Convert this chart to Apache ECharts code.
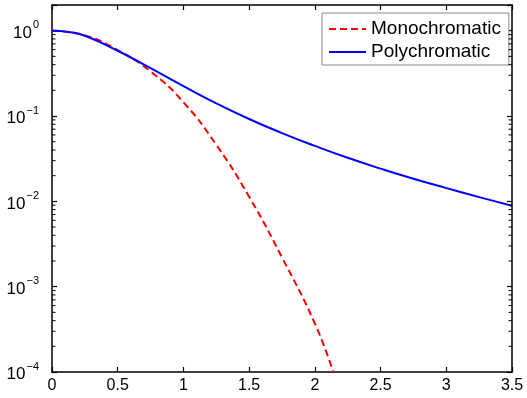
<!DOCTYPE html>
<html>
<head>
<meta charset="utf-8">
<script src="https://cdn.jsdelivr.net/npm/echarts@6/dist/echarts.min.js"></script>
<style>html,body{margin:0;padding:0;background:#fff}#c{width:527px;height:398px}</style>
</head>
<body>
<div id="c"></div>
<script>
const seriesNames = ['Monochromatic', 'Polychromatic'];
const monoX = [0, 0.25, 0.5, 0.75, 1.0, 1.25, 1.5, 1.75, 2.0, 2.14];
const monoY = [1.0, 0.88, 0.59, 0.333, 0.145, 0.046, 0.0113, 0.0022, 0.00037, 0.0001];
const polyX = [0, 0.125, 0.25, 0.5, 0.75, 1.0, 1.25, 1.5, 1.75, 2.0, 2.25, 2.5, 2.75, 3.0, 3.25, 3.5];
const polyY = [1.0, 0.966, 0.871, 0.582, 0.363, 0.224, 0.141, 0.0923, 0.0631, 0.0447, 0.0324, 0.0242, 0.0184, 0.0143, 0.0112, 0.0089];
const xTicks = [0, 0.5, 1, 1.5, 2, 2.5, 3, 3.5];
const yMin = 1e-4, yMax = 2;
const minorTicks = [];
[-4, -3, -2, -1, 0].forEach(function (e) {
  for (let m = 2; m <= 9; m++) {
    const v = m * Math.pow(10, e);
    if (v < yMax) minorTicks.push(v);
  }
});

const font = '"Liberation Sans", Arial, sans-serif';
const chart = echarts.init(document.getElementById('c'));

function yFmt(v) {
  const e = Math.log10(v);
  const r = Math.round(e);
  if (Math.abs(e - r) > 1e-6) return '';
  const s = r < 0 ? '\u2212' + Math.abs(r) : String(r);
  return '{b|10}{s|' + s + '}';
}

const axisLine = { show: true, onZero: false, lineStyle: { color: '#000', width: 1.5 } };
const tick = { show: true, inside: true, length: 5, lineStyle: { color: '#000', width: 1.2 } };

const tickData = [];
minorTicks.forEach(function (v) { tickData.push([0, v, 1]); tickData.push([3.5, v, -1]); });

chart.setOption({
  animation: false,
  backgroundColor: '#fff',
  grid: { left: 52, right: 15, top: 5, bottom: 26, containLabel: false },
  legend: {
    orient: 'vertical',
    left: 322, top: 13,
    padding: [6, 8, 3, 6],
    itemWidth: 37, itemHeight: 14, itemGap: 3,
    borderColor: '#888', borderWidth: 1,
    backgroundColor: '#fff',
    itemStyle: { opacity: 0 },
    textStyle: { fontFamily: font, fontSize: 19, color: '#000', lineHeight: 20 },
    data: seriesNames
  },
  xAxis: [{
    type: 'value', min: 0, max: 3.5, interval: 0.5,
    axisLine: axisLine, axisTick: tick, splitLine: { show: false },
    axisLabel: { fontFamily: font, fontSize: 16, color: '#000', margin: 6,
      formatter: function (v) { return xTicks.indexOf(v) >= 0 ? String(v) : ''; } }
  }, {
    type: 'value', min: 0, max: 3.5, interval: 0.5, position: 'top',
    axisLine: axisLine, axisTick: tick, splitLine: { show: false },
    axisLabel: { show: false }
  }],
  yAxis: [{
    type: 'log', min: yMin, max: yMax, logBase: 10, position: 'left',
    axisLine: axisLine, axisTick: tick, splitLine: { show: false },
    axisLabel: { formatter: yFmt, margin: 13,
      rich: {
        b: { fontFamily: font, fontSize: 17, color: '#000', verticalAlign: 'bottom' },
        s: { fontFamily: font, fontSize: 11, color: '#000', verticalAlign: 'bottom', padding: [0, 0, 11, 1] }
      } }
  }, {
    type: 'log', min: yMin, max: yMax, logBase: 10, position: 'right',
    axisLine: axisLine, axisTick: tick, splitLine: { show: false },
    axisLabel: { show: false }
  }],
  series: [{
    name: seriesNames[0], type: 'line', smooth: true, symbol: 'none',
    lineStyle: { color: '#ff0000', width: 2, type: [7, 4] },
    itemStyle: { color: '#ff0000' },
    data: monoX.map(function (x, i) { return [x, monoY[i]]; }),
    z: 2
  }, {
    name: seriesNames[1], type: 'line', smooth: true, symbol: 'none',
    lineStyle: { color: '#0000ff', width: 2 },
    itemStyle: { color: '#0000ff' },
    data: polyX.map(function (x, i) { return [x, polyY[i]]; }),
    z: 3
  }, {
    type: 'custom', silent: true, clip: false, z: 4,
    data: tickData,
    renderItem: function (params, api) {
      const dir = api.value(2);
      const p = api.coord([api.value(0), api.value(1)]);
      return { type: 'line', shape: { x1: p[0], y1: p[1], x2: p[0] + dir * 3.5, y2: p[1] },
        style: { stroke: '#000', lineWidth: 1 } };
    }
  }]
});
</script>
</body>
</html>
